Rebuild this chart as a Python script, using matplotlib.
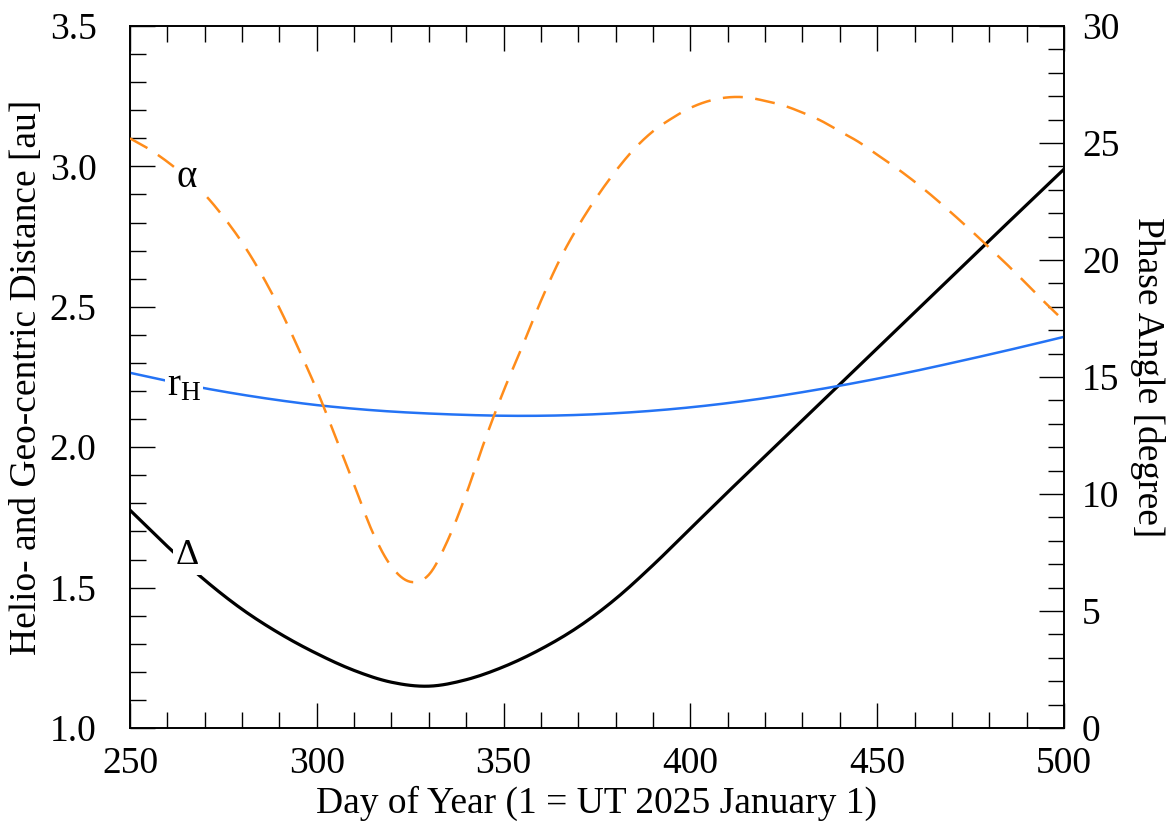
import numpy as np
import matplotlib
matplotlib.use("Agg")
import matplotlib.pyplot as plt
from matplotlib.ticker import MultipleLocator, FormatStrFormatter

# day of year grid (every 10 days)
days = [250, 260, 270, 280, 290, 300, 310, 320, 330, 340, 350, 360, 370,
        380, 390, 400, 410, 420, 430, 440, 450, 460, 470, 480, 490, 500]

# geocentric distance Delta [au]
delta = [1.776, 1.647, 1.527, 1.423, 1.337, 1.265, 1.205, 1.163, 1.149, 1.172,
         1.218, 1.281, 1.36, 1.46, 1.58, 1.71, 1.84, 1.968, 2.096, 2.224,
         2.352, 2.48, 2.608, 2.736, 2.863, 2.99]

# heliocentric distance r_H [au]
r_helio = [2.265, 2.236, 2.21, 2.187, 2.167, 2.15, 2.137, 2.127, 2.12, 2.115,
           2.112, 2.112, 2.115, 2.121, 2.13, 2.142, 2.157, 2.175, 2.196, 2.219,
           2.244, 2.271, 2.30, 2.33, 2.361, 2.393]

# phase angle alpha [deg], 5-day grid
alpha_days = list(range(250, 501, 5))
alpha = [25.2, 24.75, 24.2, 23.55, 22.8, 21.85, 20.75, 19.45, 17.95, 16.25,
         14.45, 12.45, 10.4, 8.35, 6.9, 6.25, 6.55, 8.0, 10.0, 12.3,
         14.4, 16.3, 18.25, 20.0, 21.45, 22.7, 23.8, 24.75, 25.5, 26.05,
         26.5, 26.8, 26.95, 26.95, 26.8, 26.6, 26.3, 25.95, 25.5, 25.05,
         24.5, 23.95, 23.35, 22.7, 22.0, 21.28, 20.53, 19.77, 18.98, 18.17,
         17.4]


def smooth(x, y, n=8):
    # cubic Hermite through the read-off points, for a smooth drawn curve
    x = np.asarray(x, float)
    y = np.asarray(y, float)
    m = np.gradient(y, x)
    xs, ys = [], []
    for i in range(len(x) - 1):
        h = x[i + 1] - x[i]
        t = np.linspace(0, 1, n, endpoint=False)
        h00 = 2 * t**3 - 3 * t**2 + 1
        h10 = t**3 - 2 * t**2 + t
        h01 = -2 * t**3 + 3 * t**2
        h11 = t**3 - t**2
        xs.append(x[i] + t * h)
        ys.append(h00 * y[i] + h10 * h * m[i] + h01 * y[i + 1] + h11 * h * m[i + 1])
    xs.append([x[-1]])
    ys.append([y[-1]])
    return np.concatenate(xs), np.concatenate(ys)


plt.rcParams['font.family'] = ['Liberation Serif', 'DejaVu Serif']
plt.rcParams['mathtext.fontset'] = 'stix'

fig = plt.figure(figsize=(11.75, 8.39), dpi=100)
ax = fig.add_axes([0.1106, 0.1323, 0.7949, 0.8367])
ax2 = ax.twinx()

ax.plot(*smooth(days, delta), color='black', lw=2.3, zorder=3)
ax.plot(*smooth(days, r_helio), color='#2473f5', lw=1.8, zorder=3)
ax2.plot(*smooth(alpha_days, alpha), color='#ff8c1a', lw=1.8, dashes=(8, 5), zorder=3)

ax.set_xlim(250, 500)
ax.set_ylim(1.0, 3.5)
ax2.set_ylim(0, 30)

ax.xaxis.set_major_locator(MultipleLocator(50))
ax.xaxis.set_minor_locator(MultipleLocator(10))
ax.yaxis.set_major_locator(MultipleLocator(0.5))
ax.yaxis.set_minor_locator(MultipleLocator(0.1))
ax.yaxis.set_major_formatter(FormatStrFormatter('%.1f'))
ax2.yaxis.set_major_locator(MultipleLocator(5))
ax2.yaxis.set_minor_locator(MultipleLocator(1))

ax.tick_params(axis='x', which='both', direction='in', top=True, bottom=True,
               labelsize=27, pad=13)
ax.tick_params(axis='y', which='both', direction='in', left=True, right=False,
               labelsize=27, pad=24)
ax.tick_params(which='major', length=18, width=1.0)
ax.tick_params(which='minor', length=11.5, width=1.0)
ax2.tick_params(axis='y', which='both', direction='in', labelsize=27, pad=13)
ax2.tick_params(which='major', length=18, width=1.0)
ax2.tick_params(which='minor', length=11.5, width=1.0)

for a in (ax, ax2):
    for s in a.spines.values():
        s.set_linewidth(1.2)

ax.set_xlabel("Day of Year (1 = UT 2025 January 1)", fontsize=27, labelpad=4)
ax.set_ylabel("Helio- and Geo-centric Distance [au]", fontsize=27, labelpad=4)
ax2.set_ylabel("Phase Angle [degree]", fontsize=27, rotation=270, labelpad=33)

box = dict(facecolor='white', edgecolor='none', pad=1.5)
ax2.text(265.3, 2.962, "α", transform=ax.transData, fontsize=28,
         ha='center', va='center', bbox=box, zorder=5)
ax2.text(264.5, 2.215, r"r$_\mathregular{H}$", transform=ax.transData, fontsize=28,
         ha='center', va='center', bbox=box, zorder=5)
ax2.text(265.3, 1.613, "Δ", transform=ax.transData, fontsize=26,
         ha='center', va='center', bbox=box, zorder=5)

fig.savefig("out.png", dpi=100)
